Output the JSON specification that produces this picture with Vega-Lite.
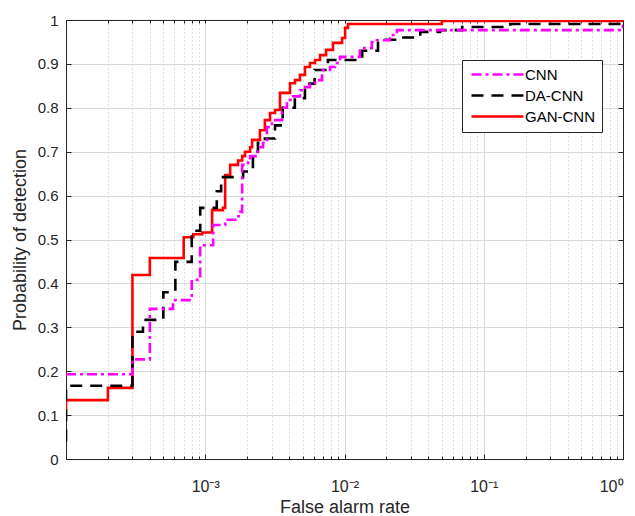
{
  "$schema": "https://vega.github.io/schema/vega-lite/v6.json",
  "width": 557,
  "height": 439,
  "autosize": {"type": "none"},
  "padding": {"left": 66, "top": 20, "right": 12, "bottom": 57},
  "background": "white",
  "config": {
    "view": {"stroke": "#262626", "strokeWidth": 1},
    "font": "Liberation Sans",
    "axis": {"labelFont": "Liberation Sans", "titleFont": "Liberation Sans", "labelColor": "#262626", "titleColor": "#262626", "domainColor": "#262626", "tickColor": "#262626", "titleFontWeight": "normal"}
  },
  "data": {"values": [
    {"s": "GAN-CNN", "o": 1, "x": 0.0001, "y": 0.107},
    {"s": "GAN-CNN", "o": 2, "x": 0.0001, "y": 0.134},
    {"s": "GAN-CNN", "o": 3, "x": 0.0002, "y": 0.162},
    {"s": "GAN-CNN", "o": 4, "x": 0.0003, "y": 0.419},
    {"s": "GAN-CNN", "o": 5, "x": 0.0004, "y": 0.458},
    {"s": "GAN-CNN", "o": 6, "x": 0.0007, "y": 0.505},
    {"s": "GAN-CNN", "o": 7, "x": 0.00082, "y": 0.512},
    {"s": "GAN-CNN", "o": 8, "x": 0.00095, "y": 0.516},
    {"s": "GAN-CNN", "o": 9, "x": 0.00112, "y": 0.567},
    {"s": "GAN-CNN", "o": 10, "x": 0.00134, "y": 0.572},
    {"s": "GAN-CNN", "o": 11, "x": 0.00139, "y": 0.647},
    {"s": "GAN-CNN", "o": 12, "x": 0.00151, "y": 0.670},
    {"s": "GAN-CNN", "o": 13, "x": 0.00172, "y": 0.680},
    {"s": "GAN-CNN", "o": 14, "x": 0.00184, "y": 0.690},
    {"s": "GAN-CNN", "o": 15, "x": 0.00193, "y": 0.700},
    {"s": "GAN-CNN", "o": 16, "x": 0.0021, "y": 0.710},
    {"s": "GAN-CNN", "o": 17, "x": 0.00217, "y": 0.727},
    {"s": "GAN-CNN", "o": 18, "x": 0.00247, "y": 0.749},
    {"s": "GAN-CNN", "o": 19, "x": 0.00268, "y": 0.772},
    {"s": "GAN-CNN", "o": 20, "x": 0.00292, "y": 0.788},
    {"s": "GAN-CNN", "o": 21, "x": 0.00317, "y": 0.795},
    {"s": "GAN-CNN", "o": 22, "x": 0.00344, "y": 0.834},
    {"s": "GAN-CNN", "o": 23, "x": 0.00406, "y": 0.856},
    {"s": "GAN-CNN", "o": 24, "x": 0.00441, "y": 0.863},
    {"s": "GAN-CNN", "o": 25, "x": 0.00479, "y": 0.875},
    {"s": "GAN-CNN", "o": 26, "x": 0.0052, "y": 0.893},
    {"s": "GAN-CNN", "o": 27, "x": 0.00565, "y": 0.902},
    {"s": "GAN-CNN", "o": 28, "x": 0.00614, "y": 0.909},
    {"s": "GAN-CNN", "o": 29, "x": 0.00667, "y": 0.920},
    {"s": "GAN-CNN", "o": 30, "x": 0.00737, "y": 0.932},
    {"s": "GAN-CNN", "o": 31, "x": 0.00827, "y": 0.948},
    {"s": "GAN-CNN", "o": 32, "x": 0.0096, "y": 0.959},
    {"s": "GAN-CNN", "o": 33, "x": 0.0101, "y": 0.982},
    {"s": "GAN-CNN", "o": 34, "x": 0.0106, "y": 0.991},
    {"s": "GAN-CNN", "o": 35, "x": 0.05, "y": 0.998},
    {"s": "GAN-CNN", "o": 36, "x": 1, "y": 0.998},
    {"s": "DA-CNN", "o": 1, "x": 0.0001, "y": 0.04},
    {"s": "DA-CNN", "o": 2, "x": 0.0001, "y": 0.167},
    {"s": "DA-CNN", "o": 3, "x": 0.0003, "y": 0.29},
    {"s": "DA-CNN", "o": 4, "x": 0.000357, "y": 0.317},
    {"s": "DA-CNN", "o": 5, "x": 0.0005, "y": 0.38},
    {"s": "DA-CNN", "o": 6, "x": 0.00061, "y": 0.449},
    {"s": "DA-CNN", "o": 7, "x": 0.0008, "y": 0.52},
    {"s": "DA-CNN", "o": 8, "x": 0.00092, "y": 0.572},
    {"s": "DA-CNN", "o": 9, "x": 0.00121, "y": 0.61},
    {"s": "DA-CNN", "o": 10, "x": 0.0013, "y": 0.642},
    {"s": "DA-CNN", "o": 11, "x": 0.00187, "y": 0.655},
    {"s": "DA-CNN", "o": 12, "x": 0.0022, "y": 0.70},
    {"s": "DA-CNN", "o": 13, "x": 0.00239, "y": 0.72},
    {"s": "DA-CNN", "o": 14, "x": 0.00268, "y": 0.73},
    {"s": "DA-CNN", "o": 15, "x": 0.00317, "y": 0.76},
    {"s": "DA-CNN", "o": 16, "x": 0.0036, "y": 0.80},
    {"s": "DA-CNN", "o": 17, "x": 0.0044, "y": 0.822},
    {"s": "DA-CNN", "o": 18, "x": 0.0052, "y": 0.855},
    {"s": "DA-CNN", "o": 19, "x": 0.0061, "y": 0.886},
    {"s": "DA-CNN", "o": 20, "x": 0.0076, "y": 0.909},
    {"s": "DA-CNN", "o": 21, "x": 0.0134, "y": 0.93},
    {"s": "DA-CNN", "o": 22, "x": 0.0174, "y": 0.955},
    {"s": "DA-CNN", "o": 23, "x": 0.025, "y": 0.96},
    {"s": "DA-CNN", "o": 24, "x": 0.035, "y": 0.973},
    {"s": "DA-CNN", "o": 25, "x": 0.0485, "y": 0.977},
    {"s": "DA-CNN", "o": 26, "x": 0.07, "y": 0.984},
    {"s": "DA-CNN", "o": 27, "x": 0.155, "y": 0.991},
    {"s": "DA-CNN", "o": 28, "x": 1, "y": 1.0},
    {"s": "CNN", "o": 1, "x": 0.0001, "y": 0.193},
    {"s": "CNN", "o": 2, "x": 0.0003, "y": 0.227},
    {"s": "CNN", "o": 3, "x": 0.0004, "y": 0.342},
    {"s": "CNN", "o": 4, "x": 0.000587, "y": 0.362},
    {"s": "CNN", "o": 5, "x": 0.0008, "y": 0.408},
    {"s": "CNN", "o": 6, "x": 0.00092, "y": 0.487},
    {"s": "CNN", "o": 7, "x": 0.00114, "y": 0.533},
    {"s": "CNN", "o": 8, "x": 0.00139, "y": 0.545},
    {"s": "CNN", "o": 9, "x": 0.00164, "y": 0.553},
    {"s": "CNN", "o": 10, "x": 0.00178, "y": 0.563},
    {"s": "CNN", "o": 11, "x": 0.00184, "y": 0.670},
    {"s": "CNN", "o": 12, "x": 0.00203, "y": 0.680},
    {"s": "CNN", "o": 13, "x": 0.0021, "y": 0.690},
    {"s": "CNN", "o": 14, "x": 0.00239, "y": 0.710},
    {"s": "CNN", "o": 15, "x": 0.0026, "y": 0.720},
    {"s": "CNN", "o": 16, "x": 0.00277, "y": 0.756},
    {"s": "CNN", "o": 17, "x": 0.00301, "y": 0.772},
    {"s": "CNN", "o": 18, "x": 0.00356, "y": 0.800},
    {"s": "CNN", "o": 19, "x": 0.00386, "y": 0.818},
    {"s": "CNN", "o": 20, "x": 0.00427, "y": 0.826},
    {"s": "CNN", "o": 21, "x": 0.00479, "y": 0.840},
    {"s": "CNN", "o": 22, "x": 0.0052, "y": 0.847},
    {"s": "CNN", "o": 23, "x": 0.00565, "y": 0.856},
    {"s": "CNN", "o": 24, "x": 0.00614, "y": 0.863},
    {"s": "CNN", "o": 25, "x": 0.0069, "y": 0.886},
    {"s": "CNN", "o": 26, "x": 0.00787, "y": 0.893},
    {"s": "CNN", "o": 27, "x": 0.00855, "y": 0.902},
    {"s": "CNN", "o": 28, "x": 0.00929, "y": 0.916},
    {"s": "CNN", "o": 29, "x": 0.0129, "y": 0.936},
    {"s": "CNN", "o": 30, "x": 0.0157, "y": 0.950},
    {"s": "CNN", "o": 31, "x": 0.0171, "y": 0.954},
    {"s": "CNN", "o": 32, "x": 0.0212, "y": 0.966},
    {"s": "CNN", "o": 33, "x": 0.0238, "y": 0.977},
    {"s": "CNN", "o": 34, "x": 1, "y": 0.99}
  ]},
  "resolve": {"axis": {"x": "independent", "y": "independent"}},
  "layer": [
    {
      "mark": {"type": "line", "opacity": 0},
      "encoding": {
        "x": {"field": "x", "type": "quantitative", "scale": {"type": "log", "domain": [0.0001, 1], "nice": false},
          "axis": {"orient": "bottom", "values": [0.0002,0.0003,0.0004,0.0005,0.0006,0.0007,0.0008,0.0009,0.002,0.003,0.004,0.005,0.006,0.007,0.008,0.009,0.02,0.03,0.04,0.05,0.06,0.07,0.08,0.09,0.2,0.3,0.4,0.5,0.6,0.7,0.8,0.9],
            "grid": true, "gridDash": [1, 3], "gridColor": "#b0b0b0", "gridOpacity": 0.8, "labels": false, "title": null, "domain": false, "tickSize": -3}},
        "y": {"field": "y", "type": "quantitative", "scale": {"domain": [0, 1], "nice": false}, "axis": null}
      }
    },
    {
      "mark": {"type": "line", "opacity": 0},
      "encoding": {
        "x": {"field": "x", "type": "quantitative",
          "axis": {"orient": "top", "values": [0.001,0.01,0.1,0.0002,0.0003,0.0004,0.0005,0.0006,0.0007,0.0008,0.0009,0.002,0.003,0.004,0.005,0.006,0.007,0.008,0.009,0.02,0.03,0.04,0.05,0.06,0.07,0.08,0.09,0.2,0.3,0.4,0.5,0.6,0.7,0.8,0.9],
            "grid": false, "labels": false, "title": null, "domain": true, "tickSize": -3}},
        "y": {"field": "y", "type": "quantitative",
          "axis": {"orient": "right", "values": [0,0.1,0.2,0.3,0.4,0.5,0.6,0.7,0.8,0.9,1], "grid": false, "labels": false, "title": null, "domain": true, "tickSize": -5}}
      }
    },
    {
      "mark": {"type": "line", "interpolate": "step-after", "strokeWidth": 2.6, "clip": true},
      "encoding": {
        "x": {"field": "x", "type": "quantitative",
          "axis": {"orient": "bottom", "values": [0.001, 0.01, 0.1, 1], "grid": true, "gridColor": "#d9d9d9", "gridOpacity": 1,
            "labelExpr": "datum.value < 0.005 ? '10⁻³' : datum.value < 0.05 ? '10⁻²' : datum.value < 0.5 ? '10⁻¹' : '10⁰'",
            "labelFontSize": 16, "labelPadding": 24, "tickSize": -5, "title": "False alarm rate", "titleFontSize": 18, "titlePadding": 4, "domain": true}},
        "y": {"field": "y", "type": "quantitative",
          "axis": {"orient": "left", "values": [0,0.1,0.2,0.3,0.4,0.5,0.6,0.7,0.8,0.9,1], "format": "~g", "grid": true, "gridColor": "#d9d9d9", "gridOpacity": 1,
            "labelFontSize": 15, "labelPadding": 13, "tickSize": -5, "title": "Probability of detection", "titleFontSize": 18, "titlePadding": 8, "domain": true}},
        "color": {"field": "s", "type": "nominal", "scale": {"domain": ["CNN", "DA-CNN", "GAN-CNN"], "range": ["#ff00ff", "#000000", "#ff0000"]},
          "legend": {"orient": "none", "legendX": 396, "legendY": 40, "title": null, "strokeColor": "#262626", "fillColor": "white", "padding": 7,
            "symbolType": "M-5.2,0H5.2", "symbolSize": 100, "symbolOffset": 21, "symbolStrokeWidth": 2.6, "labelFontSize": 15, "labelFont": "Liberation Sans", "labelColor": "#000000", "rowPadding": 5, "labelOffset": 20}},
        "strokeDash": {"field": "s", "type": "nominal", "scale": {"domain": ["CNN", "DA-CNN", "GAN-CNN"], "range": [[10, 4, 3, 4], [12, 8], [1, 0]]}, "legend": null},
        "order": {"field": "o", "type": "quantitative"}
      }
    }
  ]
}
